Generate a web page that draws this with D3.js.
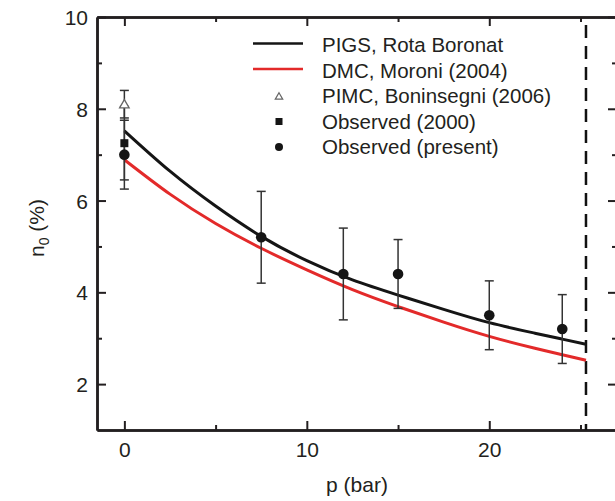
<!doctype html>
<html lang="en">

<head>
  <meta charset="utf-8">
  <script src="https://d3js.org/d3.v7.min.js"></script>
  <title>Condensate fraction n0 vs pressure</title>
  <style type="text/css">
    html,
    body {
      width: 100%;
      height: 100%;
      padding: 0;
      margin: 0;
      background: #fff;
    }

    svg {
      display: block;
      font-family: "Liberation Sans", Arial, sans-serif;
    }

    .axis path,
    .axis line {
      stroke: #231f20;
    }
  </style>
</head>

<body>
<script>
  // PIGS curve (Rota, Boronat)
  var pigsP = [0, 2.5, 5, 7.5, 10, 12.5, 15, 17.5, 20, 22.5, 24, 25.3];
  var pigsN = [7.52, 6.64, 5.88, 5.22, 4.69, 4.27, 3.94, 3.63, 3.34, 3.11, 2.98, 2.87];

  // DMC curve (Moroni 2004)
  var dmcP = [0, 2.5, 5, 7.5, 10, 12.5, 15, 17.5, 20, 22.5, 24, 25.3];
  var dmcN = [6.89, 6.14, 5.50, 4.96, 4.49, 4.06, 3.69, 3.35, 3.04, 2.78, 2.64, 2.52];

  // PIMC (Boninsegni 2006)
  var pimcP = [0];
  var pimcN = [8.1];
  var pimcErr = [0.3];

  // observed (2000)
  var obs2000P = [0];
  var obs2000N = [7.25];
  var obs2000Err = [0.8];

  // observed (present)
  var obsP = [0, 7.5, 12, 15, 20, 24];
  var obsN = [7.0, 5.2, 4.4, 4.4, 3.5, 3.2];
  var obsErr = [0.75, 1.0, 1.0, 0.75, 0.75, 0.75];

  // solidification pressure
  var solidP = 25.3;

  var xMajor = [0, 10, 20];
  var xMinor = [5, 15, 25];
  var yMajor = [2, 4, 6, 8, 10];
  var yMinor = [3, 5, 7, 9];

  var legendLabels = ["PIGS, Rota Boronat", "DMC, Moroni (2004)", "PIMC, Boninsegni (2006)", "Observed (2000)", "Observed (present)"];

  var W = 615, H = 501;
  var ink = "#231f20", red = "#e32a2a";

  var svg = d3.select("body").append("svg")
    .attr("width", W)
    .attr("height", H);

  // scales: right axis sits just off the picture
  var x = d3.scaleLinear().domain([-1.5, 27]).range([97, 617]);
  var y = d3.scaleLinear().domain([1, 10]).range([430, 17]);

  // bottom
  var gb = svg.append("g").attr("class", "axis").attr("transform", "translate(0," + y(1) + ")");
  gb.call(d3.axisBottom(x).tickValues(xMajor).tickSize(-9).tickPadding(12).tickSizeOuter(0));
  gb.append("g").call(d3.axisBottom(x).tickValues(xMinor).tickSize(-5).tickFormat("").tickSizeOuter(0));

  // top
  var gt = svg.append("g").attr("class", "axis").attr("transform", "translate(0," + y(10) + ")");
  gt.call(d3.axisTop(x).tickValues(xMajor).tickSize(-9).tickFormat("").tickSizeOuter(0));
  gt.append("g").call(d3.axisTop(x).tickValues(xMinor).tickSize(-5).tickFormat("").tickSizeOuter(0));

  // left
  var gl = svg.append("g").attr("class", "axis").attr("transform", "translate(" + x(-1.5) + ",0)");
  gl.call(d3.axisLeft(y).tickValues(yMajor).tickSize(-9).tickPadding(9).tickSizeOuter(0));
  gl.append("g").call(d3.axisLeft(y).tickValues(yMinor).tickSize(-5).tickFormat("").tickSizeOuter(0));

  // right
  var gr = svg.append("g").attr("class", "axis").attr("transform", "translate(" + x(27) + ",0)");
  gr.call(d3.axisRight(y).tickValues(yMajor).tickSize(-9).tickFormat("").tickSizeOuter(0));
  gr.append("g").call(d3.axisRight(y).tickValues(yMinor).tickSize(-5).tickFormat("").tickSizeOuter(0));

  svg.selectAll(".axis path").attr("stroke-width", 2.5);
  svg.selectAll(".axis line").attr("stroke-width", 2);
  svg.selectAll(".axis text")
    .attr("fill", ink)
    .style("font-size", "21px")
    .style("font-family", "'Liberation Sans', Arial, sans-serif");
  gl.selectAll("text").attr("dy", "0.36em");

  // axis titles
  svg.append("text")
    .attr("x", (x(-1.5) + x(27)) / 2)
    .attr("y", 492)
    .attr("text-anchor", "middle")
    .attr("fill", ink)
    .style("font-size", "21px")
    .text("p (bar)");

  var ylab = svg.append("text")
    .attr("transform", "translate(44," + 228 + ") rotate(-90)")
    .attr("text-anchor", "middle")
    .attr("fill", ink)
    .style("font-size", "21px");
  ylab.append("tspan").text("n");
  ylab.append("tspan").attr("dy", 5).style("font-size", "14px").text("0");
  ylab.append("tspan").attr("dy", -5).text(" (%)");

  // solidification line
  svg.append("line")
    .attr("x1", x(solidP)).attr("x2", x(solidP))
    .attr("y1", y(10) + 8).attr("y2", y(1))
    .attr("stroke", "#111")
    .attr("stroke-width", 2.5)
    .attr("stroke-dasharray", "13,8");

  // theory curves
  var line = d3.line()
    .x(function(d) { return x(d[0]); })
    .y(function(d) { return y(d[1]); })
    .curve(d3.curveNatural);

  svg.append("path")
    .datum(dmcP.map(function(p, i) { return [p, dmcN[i]]; }))
    .attr("d", line)
    .attr("fill", "none")
    .attr("stroke", red)
    .attr("stroke-width", 3);

  svg.append("path")
    .datum(pigsP.map(function(p, i) { return [p, pigsN[i]]; }))
    .attr("d", line)
    .attr("fill", "none")
    .attr("stroke", "#151515")
    .attr("stroke-width", 3);

  // error bars
  function errorBars(ps, ns, es) {
    var g = svg.append("g").attr("stroke", "#333").attr("stroke-width", 1.5);
    ps.forEach(function(p, i) {
      g.append("line").attr("x1", x(p)).attr("x2", x(p))
        .attr("y1", y(ns[i] - es[i])).attr("y2", y(ns[i] + es[i]));
      [ns[i] - es[i], ns[i] + es[i]].forEach(function(v) {
        g.append("line").attr("x1", x(p) - 4.5).attr("x2", x(p) + 4.5)
          .attr("y1", y(v)).attr("y2", y(v));
      });
    });
  }
  errorBars(pimcP, pimcN, pimcErr);
  errorBars(obs2000P, obs2000N, obs2000Err);
  errorBars(obsP, obsN, obsErr);

  // markers
  var tri = d3.symbol().type(d3.symbolTriangle);

  pimcP.forEach(function(p, i) {
    svg.append("path")
      .attr("d", tri.size(40)())
      .attr("transform", "translate(" + x(p) + "," + (y(pimcN[i]) + 1) + ")")
      .attr("fill", "#fff")
      .attr("stroke", "#666")
      .attr("stroke-width", 1.3);
  });

  obs2000P.forEach(function(p, i) {
    svg.append("rect")
      .attr("x", x(p) - 4).attr("y", y(obs2000N[i]) - 4)
      .attr("width", 8).attr("height", 8)
      .attr("fill", "#151515");
  });

  svg.append("g").selectAll("circle")
    .data(obsP)
    .enter()
    .append("circle")
    .attr("cx", function(d) { return x(d); })
    .attr("cy", function(d, i) { return y(obsN[i]); })
    .attr("r", 5.3)
    .attr("fill", "#151515");

  // legend
  var lx = 279, ly0 = 45, lstep = 25.5;
  var leg = svg.append("g");

  leg.append("line").attr("x1", lx - 26).attr("x2", lx + 24)
    .attr("y1", ly0 - 1.5).attr("y2", ly0 - 1.5)
    .attr("stroke", "#151515").attr("stroke-width", 2.5);
  leg.append("line").attr("x1", lx - 26).attr("x2", lx + 24)
    .attr("y1", ly0 + lstep - 1.5).attr("y2", ly0 + lstep - 1.5)
    .attr("stroke", red).attr("stroke-width", 2.5);
  leg.append("path")
    .attr("d", tri.size(24)())
    .attr("transform", "translate(" + lx + "," + (ly0 + 2 * lstep + 1) + ")")
    .attr("fill", "#fff").attr("stroke", "#666").attr("stroke-width", 1.2);
  leg.append("rect")
    .attr("x", lx - 3.5).attr("y", ly0 + 3 * lstep - 3.5)
    .attr("width", 7).attr("height", 7)
    .attr("fill", "#151515");
  leg.append("circle")
    .attr("cx", lx).attr("cy", ly0 + 4 * lstep)
    .attr("r", 4)
    .attr("fill", "#151515");

  leg.selectAll("text")
    .data(legendLabels)
    .enter()
    .append("text")
    .attr("x", 322)
    .attr("y", function(d, i) { return ly0 + i * lstep + 7; })
    .attr("fill", ink)
    .style("font-size", "20.5px")
    .text(function(d) { return d; });
</script>
</body>

</html>
